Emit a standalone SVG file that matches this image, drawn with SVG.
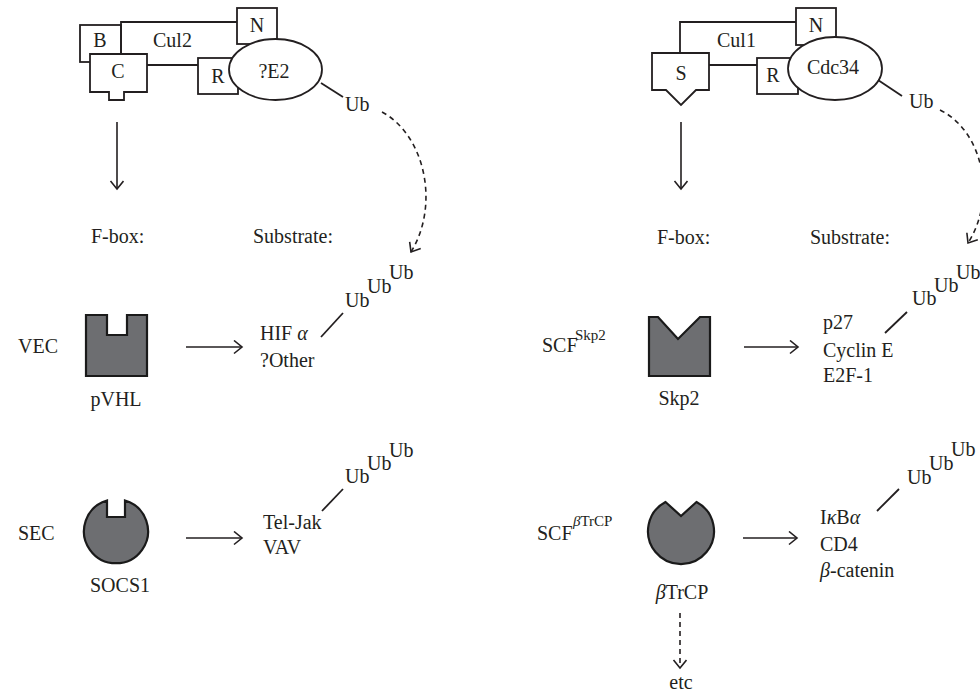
<svg xmlns="http://www.w3.org/2000/svg" width="980" height="694" viewBox="0 0 980 694">
<style>
text{font-family:"Liberation Serif","Times New Roman",serif;font-size:20px;fill:#231f20}
.sup{font-size:15px}
.c{text-anchor:middle}
.box{fill:#fff;stroke:#231f20;stroke-width:1.8}
.ln{fill:none;stroke:#231f20;stroke-width:1.8}
.fb{fill:#6d6e71;stroke:#1a1a1a;stroke-width:2.2;stroke-linejoin:miter}
.con{fill:none;stroke:#231f20;stroke-width:1.6}
.dash{stroke-dasharray:5 4}
</style>
<defs>
<marker id="ah" markerUnits="userSpaceOnUse" markerWidth="12" markerHeight="16" refX="9" refY="7" orient="auto">
<path d="M1,0.5 L9,7 L1,13.5" fill="none" stroke="#231f20" stroke-width="1.6"/>
</marker>
</defs>

<g id="cul2-complex">
<rect class="box" x="80" y="25" width="41" height="37"/>
<path class="ln" d="M121,54 V22 H237 M147,65 H198"/>
<polygon class="box" points="90,54 147,54 147,92 124,92 124,100 109,100 109,92 90,92"/>
<rect class="box" x="237" y="8" width="40" height="36"/>
<rect class="box" x="198" y="58" width="40" height="36"/>
<ellipse class="box" cx="275.5" cy="69.5" rx="46.5" ry="30.5"/>
<line class="ln" x1="321" y1="83" x2="343" y2="97"/>
<text x="100" y="47" class="c">B</text>
<text x="153" y="47">Cul2</text>
<text x="257" y="32" class="c">N</text>
<text x="118" y="78" class="c">C</text>
<text x="218" y="83" class="c">R</text>
<text x="274" y="78" class="c">?E2</text>
<text x="345" y="111">Ub</text>
</g>

<g id="cul1-complex">
<path class="ln" d="M680,54 V22 H796 M709,65 H757"/>
<polygon class="box" points="652,53 709,53 709,90 696,90 681,105 666,90 652,90"/>
<rect class="box" x="796" y="8" width="40" height="37"/>
<rect class="box" x="757" y="58" width="41" height="36"/>
<ellipse class="box" cx="835" cy="68.5" rx="47" ry="31.5"/>
<line class="ln" x1="878" y1="80" x2="902" y2="96"/>
<text x="717" y="47">Cul1</text>
<text x="816" y="32" class="c">N</text>
<text x="681" y="80" class="c">S</text>
<text x="773" y="82" class="c">R</text>
<text x="833" y="74" class="c">Cdc34</text>
<text x="909" y="108">Ub</text>
</g>

<g id="headers">
<text x="91" y="243">F-box:</text>
<text x="253" y="243">Substrate:</text>
<text x="657" y="244">F-box:</text>
<text x="810" y="244">Substrate:</text>
</g>

<g id="vec">
<text x="18" y="353">VEC</text>
<polygon class="fb" points="86,315 107,315 107,335 127,335 127,315 147,315 147,376 86,376"/>
<text x="116" y="406" class="c">pVHL</text>
<text x="260" y="340">HIF <tspan font-style="italic">α</tspan></text>
<text x="260" y="367">?Other</text>
<line class="ln" x1="321" y1="337" x2="343" y2="313"/>
<text x="345" y="307">Ub</text>
<text x="367" y="293">Ub</text>
<text x="389" y="279">Ub</text>
</g>

<g id="sec">
<text x="18" y="540">SEC</text>
<path class="fb" d="M107,500.5 A32,32 0 1 0 125,500.5 V517 H107 Z"/>
<text x="120" y="592" class="c">SOCS1</text>
<text x="263" y="529">Tel-Jak</text>
<text x="263" y="554">VAV</text>
<line class="ln" x1="322" y1="511" x2="343" y2="489"/>
<text x="345" y="483">Ub</text>
<text x="367" y="470">Ub</text>
<text x="389" y="457">Ub</text>
</g>

<g id="scf-skp2">
<text x="542" y="352">SCF</text>
<text x="575" y="340" class="sup">Skp2</text>
<polygon class="fb" points="649,317 658,317 678,339 700,317 710,317 710,376 649,376"/>
<text x="679" y="405" class="c">Skp2</text>
<text x="823" y="329">p27</text>
<text x="823" y="357">Cyclin E</text>
<text x="823" y="382">E2F-1</text>
<line class="ln" x1="885" y1="333" x2="907" y2="312"/>
<text x="912" y="305">Ub</text>
<text x="934" y="292">Ub</text>
<text x="956" y="279">Ub</text>
</g>

<g id="scf-btrcp">
<text x="537" y="540">SCF</text>
<text x="573" y="526" class="sup"><tspan font-style="italic">β</tspan>TrCP</text>
<path class="fb" d="M665.5,502 A33,33 0 1 0 696.5,502 L681,516 Z"/>
<text x="682" y="599" class="c"><tspan font-style="italic">β</tspan>TrCP</text>
<text x="820" y="524">I<tspan font-style="italic">κ</tspan>B<tspan font-style="italic">α</tspan></text>
<text x="820" y="551">CD4</text>
<text x="820" y="577"><tspan font-style="italic">β</tspan>-catenin</text>
<line class="ln" x1="877" y1="511" x2="899" y2="489"/>
<text x="907" y="484">Ub</text>
<text x="929" y="470">Ub</text>
<text x="951" y="456">Ub</text>
<text x="681" y="689" class="c">etc</text>
</g>

<g id="connectors">
<line class="con" x1="117" y1="122" x2="117" y2="189" marker-end="url(#ah)"/>
<line class="con" x1="681" y1="122" x2="681" y2="189" marker-end="url(#ah)"/>
<path class="con dash" d="M382,112 C425,135 440,205 411,252" marker-end="url(#ah)"/>
<path class="con dash" d="M940,110 C983,131 997,198 968,243" marker-end="url(#ah)"/>
<line class="con" x1="186" y1="347" x2="242" y2="347" marker-end="url(#ah)"/>
<line class="con" x1="186" y1="538" x2="242" y2="538" marker-end="url(#ah)"/>
<line class="con" x1="744" y1="347" x2="798" y2="347" marker-end="url(#ah)"/>
<line class="con" x1="743" y1="538" x2="797" y2="538" marker-end="url(#ah)"/>
<line class="con dash" x1="680" y1="613" x2="680" y2="668" marker-end="url(#ah)"/>
</g>
</svg>
